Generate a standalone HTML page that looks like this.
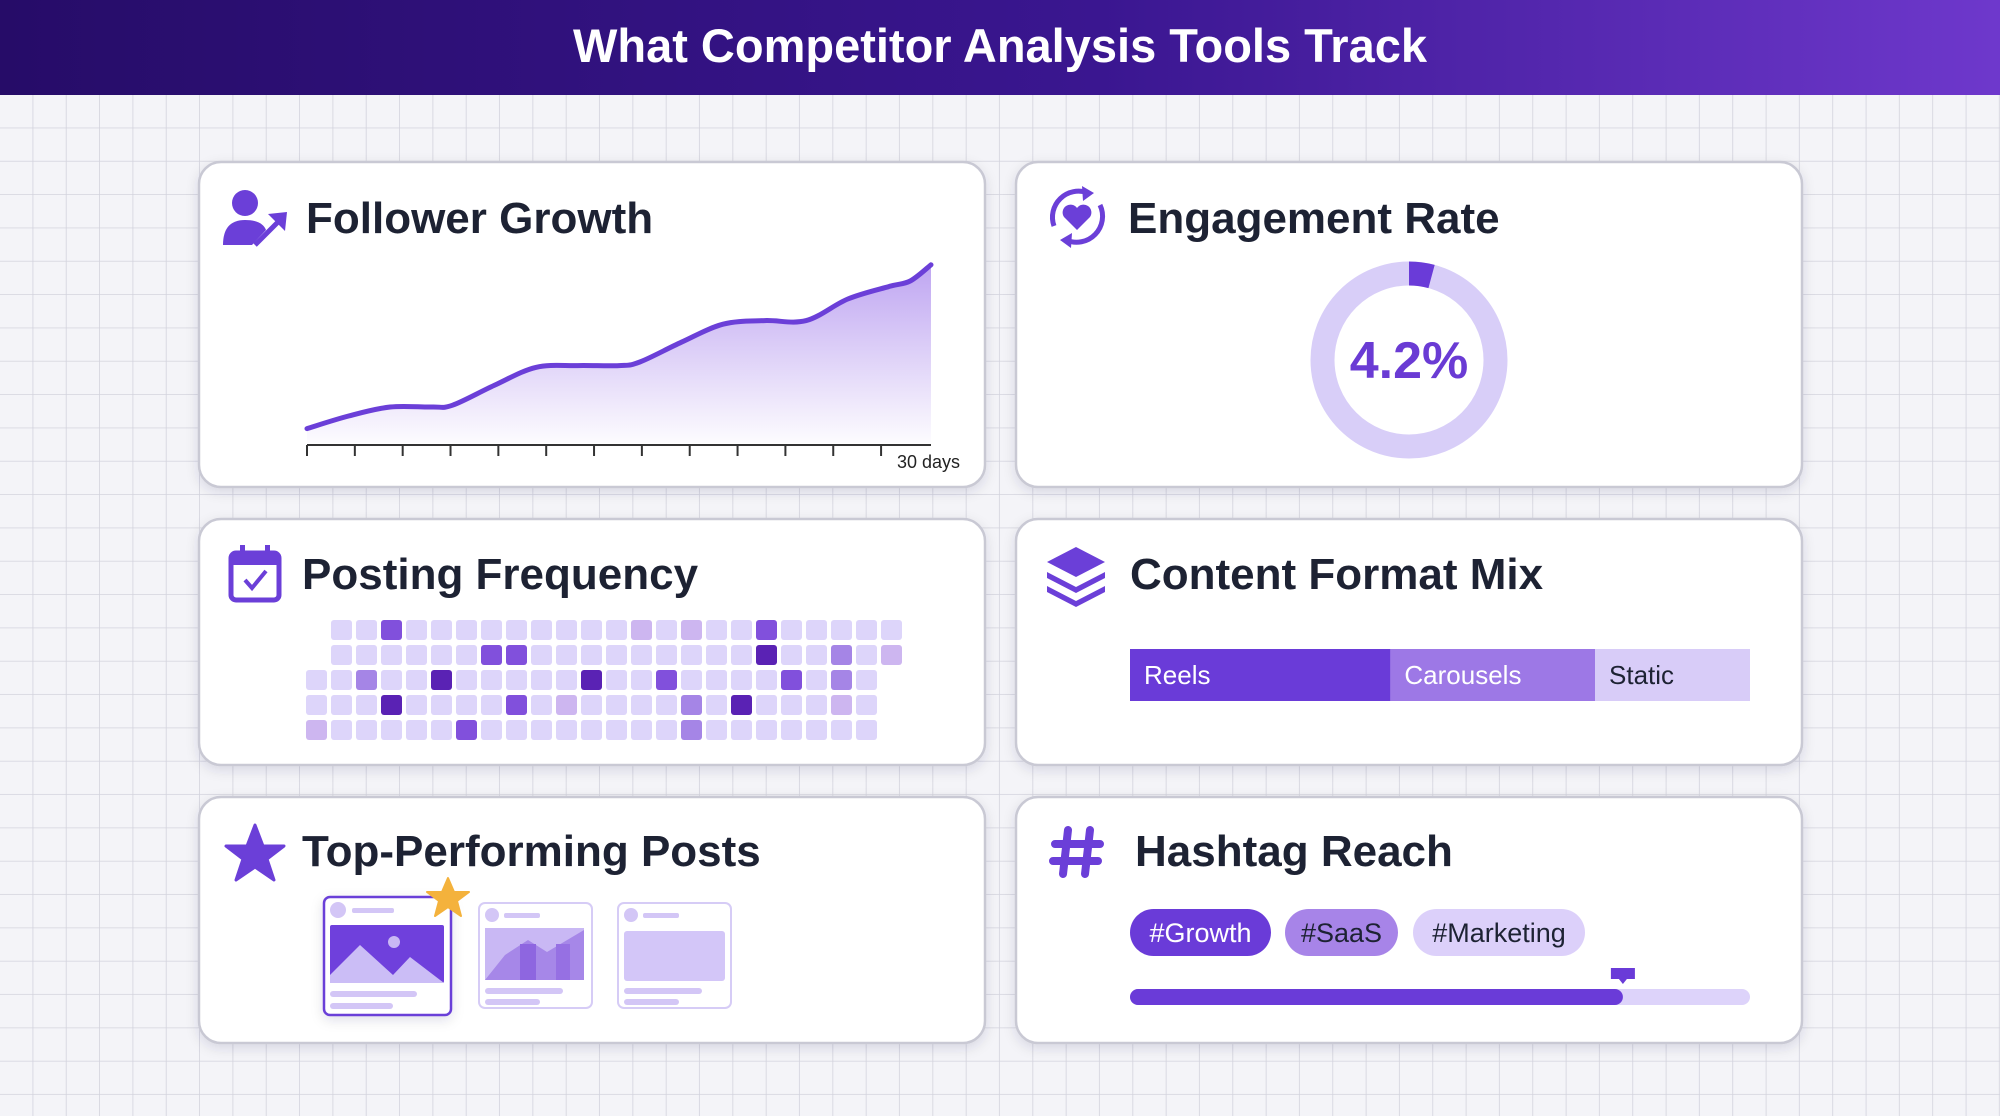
<!DOCTYPE html>
<html><head><meta charset="utf-8"><style>
html,body{margin:0;padding:0;background:#f4f4f8}
svg{display:block}
text{font-family:"Liberation Sans",Arial,sans-serif}
</style></head><body>
<svg id="root" width="2000" height="1116" viewBox="0 0 2000 1116" xmlns="http://www.w3.org/2000/svg">
<defs>
<linearGradient id="hdr" x1="0" y1="0" x2="1" y2="0"><stop offset="0" stop-color="#260c68"/><stop offset="0.55" stop-color="#3a1690"/><stop offset="1" stop-color="#6e38cc"/></linearGradient>
<linearGradient id="area" x1="0" y1="0" x2="0" y2="1"><stop offset="0" stop-color="#8a5ce6" stop-opacity="0.55"/><stop offset="1" stop-color="#8a5ce6" stop-opacity="0.02"/></linearGradient>
<pattern id="grid" width="33.33" height="33.33" patternUnits="userSpaceOnUse" x="0" y="95"><path d="M33.33 0V33.33M0 33.33H33.33" stroke="#d3d3dd" stroke-width="1.6" fill="none"/></pattern>
<filter id="sh" x="-10%" y="-10%" width="120%" height="130%"><feDropShadow dx="0" dy="4" stdDeviation="6" flood-color="#202040" flood-opacity="0.12"/></filter>
</defs>
<rect width="2000" height="1116" fill="#f4f4f8"/>
<rect width="2000" height="1116" fill="url(#grid)"/>
<rect width="2000" height="95" fill="url(#hdr)"/>
<text x="1000" y="62" text-anchor="middle" fill="#fff" font-size="47" font-weight="bold">What Competitor Analysis Tools Track</text>

<g>
<rect x="199" y="162" width="786" height="325" rx="22" fill="#fff" stroke="#c9c9d4" stroke-width="2.5" filter="url(#sh)"/>
<g fill="#6b3fd8">
<circle cx="245" cy="203" r="13"/><path d="M223 245 Q223 220 245 220 Q262 220 266 230 L252 245 Z"/>
<path d="M255 245 L280 220" stroke="#6b3fd8" stroke-width="5" fill="none"/><path d="M268 214 L287 212 L285 231 Z"/>
</g>
<text x="306" y="233" font-size="44" font-weight="bold" fill="#1d2233">Follower Growth</text>
<g id="fg"></g>
<text x="960" y="468" text-anchor="end" font-size="18" fill="#222">30 days</text>
</g>

<g>
<rect x="1016" y="162" width="786" height="325" rx="22" fill="#fff" stroke="#c9c9d4" stroke-width="2.5" filter="url(#sh)"/>
<g>
<path d="M1054 226 A26 26 0 0 1 1088 193" stroke="#6b3fd8" stroke-width="5" fill="none"/>
<path d="M1100 205 A26 26 0 0 1 1066 240" stroke="#6b3fd8" stroke-width="5" fill="none"/>
<path d="M1082 186 L1094 193 L1083 201Z M1072 233 L1060 240 L1071 248Z" fill="#6b3fd8"/>
<path d="M1077 230 L1064 217 A7 7 0 0 1 1077 208 A7 7 0 0 1 1090 217 Z" fill="#6b3fd8"/>
</g>
<text x="1128" y="233" font-size="44" font-weight="bold" fill="#1d2233">Engagement Rate</text>
<g id="donut"></g>
<text x="1409" y="378" text-anchor="middle" font-size="52" font-weight="bold" fill="#6a3bd4">4.2%</text>
</g>

<g>
<rect x="199" y="519" width="786" height="246" rx="22" fill="#fff" stroke="#c9c9d4" stroke-width="2.5" filter="url(#sh)"/>
<g>
<rect x="231" y="553" width="48" height="47" rx="5" fill="#fff" stroke="#6b3fd8" stroke-width="5"/>
<rect x="231" y="553" width="48" height="12" fill="#6b3fd8"/>
<rect x="240" y="545" width="5" height="12" fill="#6b3fd8"/><rect x="265" y="545" width="5" height="12" fill="#6b3fd8"/>
<path d="M245 580 L252 588 L266 571" stroke="#6b3fd8" stroke-width="4" fill="none"/>
</g>
<text x="302" y="589" font-size="44" font-weight="bold" fill="#1d2233">Posting Frequency</text>
<g id="heat"></g>
</g>

<g>
<rect x="1016" y="519" width="786" height="246" rx="22" fill="#fff" stroke="#c9c9d4" stroke-width="2.5" filter="url(#sh)"/>
<g fill="#6b3fd8">
<path d="M1076 547 L1105 562 L1076 577 L1047 562Z"/>
<path d="M1047 572 L1076 587 L1105 572 L1105 578 L1076 593 L1047 578Z"/>
<path d="M1047 586 L1076 601 L1105 586 L1105 592 L1076 607 L1047 592Z"/>
</g>
<text x="1130" y="589" font-size="44" font-weight="bold" fill="#1d2233">Content Format Mix</text>
<g id="mix"></g>
</g>

<g>
<rect x="199" y="797" width="786" height="246" rx="22" fill="#fff" stroke="#c9c9d4" stroke-width="2.5" filter="url(#sh)"/>
<path d="M255 825 L263 846 L284 846 L267 859 L274 880 L255 867 L236 880 L243 859 L226 846 L247 846Z" fill="#6b3fd8" stroke="#6b3fd8" stroke-width="3" stroke-linejoin="round"/>
<text x="302" y="866" font-size="44" font-weight="bold" fill="#1d2233">Top-Performing Posts</text>
<g>
<rect x="324" y="897" width="127" height="118" rx="6" fill="#fff" stroke="#6b3fd8" stroke-width="2.5" filter="url(#sh)"/>
<circle cx="338" cy="910" r="8" fill="#d3c6f6"/><rect x="352" y="908" width="42" height="5" rx="2" fill="#d3c6f6"/>
<rect x="330" y="925" width="114" height="58" rx="2" fill="#6f40dc"/>
<circle cx="394" cy="942" r="6" fill="#c9b8f4"/>
<path d="M330 983 L330 975 L360 945 L393 975 L410 957 L444 983Z" fill="#cbbdf6"/>
<rect x="330" y="991" width="87" height="6" rx="3" fill="#d3c6f6"/><rect x="330" y="1003" width="63" height="6" rx="3" fill="#d3c6f6"/>
<path d="M448 878 L454 892 L469 892 L457 901 L461 916 L448 907 L435 916 L439 901 L427 892 L442 892Z" fill="#f4b23c" stroke="#f4b23c" stroke-width="2" stroke-linejoin="round"/>
</g>
<g>
<rect x="479" y="903" width="113" height="105" rx="6" fill="#fff" stroke="#d6ccf6" stroke-width="2"/>
<circle cx="492" cy="915" r="7" fill="#d3c6f6"/><rect x="504" y="913" width="36" height="5" rx="2" fill="#d3c6f6"/>
<rect x="485" y="928" width="99" height="52" fill="#c9b8f4"/>
<path d="M485 980 L505 955 L528 940 L547 952 L584 930 L584 980Z" fill="#a687e8"/>
<rect x="520" y="944" width="16" height="36" fill="#8e66e0"/><rect x="556" y="944" width="14" height="36" fill="#9670e3"/>
<rect x="485" y="988" width="78" height="6" rx="3" fill="#d3c6f6"/><rect x="485" y="999" width="55" height="6" rx="3" fill="#d3c6f6"/>
</g>
<g>
<rect x="618" y="903" width="113" height="105" rx="6" fill="#fff" stroke="#d6ccf6" stroke-width="2"/>
<circle cx="631" cy="915" r="7" fill="#d3c6f6"/><rect x="643" y="913" width="36" height="5" rx="2" fill="#d3c6f6"/>
<rect x="624" y="931" width="101" height="50" rx="3" fill="#d3c6f8"/>
<rect x="624" y="988" width="78" height="6" rx="3" fill="#d3c6f6"/><rect x="624" y="999" width="55" height="6" rx="3" fill="#d3c6f6"/>
</g>
</g>

<g>
<rect x="1016" y="797" width="786" height="246" rx="22" fill="#fff" stroke="#c9c9d4" stroke-width="2.5" filter="url(#sh)"/>
<g stroke="#6b3fd8" stroke-width="8" stroke-linecap="round">
<path d="M1068 830 L1063 874 M1090 830 L1085 874 M1055 844 H1100 M1053 861 H1098"/>
</g>
<text x="1135" y="866" font-size="44" font-weight="bold" fill="#1d2233">Hashtag Reach</text>
<g><rect x="1130" y="909" width="141" height="47" rx="23.5" fill="#6a3bd8"/><text x="1200.5" y="942" text-anchor="middle" font-size="27" fill="#fff">#Growth</text></g>
<g><rect x="1285" y="909" width="113" height="47" rx="23.5" fill="#a784e8"/><text x="1341.5" y="942" text-anchor="middle" font-size="27" fill="#1d2233">#SaaS</text></g>
<g><rect x="1413" y="909" width="172" height="47" rx="23.5" fill="#dcd0fa"/><text x="1499" y="942" text-anchor="middle" font-size="27" fill="#1d2233">#Marketing</text></g>
<g id="reach"></g>
</g>
</svg>
<script>
const NS="http://www.w3.org/2000/svg";
function mk(tag,attrs,parent){const e=document.createElementNS(NS,tag);for(const k in attrs)e.setAttribute(k,attrs[k]);parent.appendChild(e);return e;}

// Follower growth data
const growthDays=[0,2,4,6,7,9,11,13,15,16,18,20,22,24,26,28,29,30];
const growthValues=[8,15,20,20,21,32,42,43,43,45,56,66,68,68,80,87,90,99];
const axisTicks=[0,2.3,4.6,6.9,9.2,11.5,13.8,16.1,18.4,20.7,23,25.3,27.6];
// Engagement
const engagementRate=[4.2];
// Posting frequency heatmap (levels 0-4)
const heatRows=[
[0,0,3,0,0,0,0,0,0,0,0,0,1,0,1,0,0,3,0,0,0,0,0],
[0,0,0,0,0,0,3,3,0,0,0,0,0,0,0,0,0,4,0,0,2,0,1],
[0,0,2,0,0,4,0,0,0,0,0,4,0,0,3,0,0,0,0,3,0,2,0],
[0,0,0,4,0,0,0,0,3,0,1,0,0,0,0,2,0,4,0,0,0,1,0],
[1,0,0,0,0,0,3,0,0,0,0,0,0,0,0,2,0,0,0,0,0,0,0]];
const heatRowOffset=[1,1,0,0,0];
// Content mix
const mixLabels=["Reels","Carousels","Static"];
const mixShares=[42,33,25];
// Hashtag reach
const reachPercent=[79.5];

// ---- follower chart
const fg=document.getElementById('fg');
const gx=d=>307+d*(931-307)/30, gy=v=>443-v*1.8;
const pts=growthDays.map((d,i)=>[gx(d),gy(growthValues[i])]);
function smooth(p){let s=`M${p[0][0]} ${p[0][1]}`;for(let i=0;i<p.length-1;i++){const p0=p[i-1]||p[i],p1=p[i],p2=p[i+1],p3=p[i+2]||p2;const c1=[p1[0]+(p2[0]-p0[0])/6,p1[1]+(p2[1]-p0[1])/6],c2=[p2[0]-(p3[0]-p1[0])/6,p2[1]-(p3[1]-p1[1])/6];s+=` C${c1[0]} ${c1[1]} ${c2[0]} ${c2[1]} ${p2[0]} ${p2[1]}`;}return s;}
const line=smooth(pts);
const area=mk('path',{d:line+` L${gx(30)} ${gy(0)} L${gx(0)} ${gy(0)} Z`,fill:'url(#area)'},fg);


const ln=mk('path',{d:line,fill:'none',stroke:'#6b3fd8','stroke-width':5,'stroke-linecap':'round'},fg);


const ax=mk('line',{x1:gx(0),x2:gx(30),y1:445,y2:445,stroke:'#333','stroke-width':2},fg);


axisTicks.forEach(t=>{const tk=mk('line',{x1:gx(t),x2:gx(t),y1:445,y2:456,stroke:'#333','stroke-width':2},fg);

});

// ---- donut
const dn=document.getElementById('donut');const cx=1409,cy=360,r=86.5;
const ring=mk('circle',{cx,cy,r,fill:'none',stroke:'#d8cef8','stroke-width':24},dn);


const ang=engagementRate[0]/100*2*Math.PI;
const ex=cx+r*Math.sin(ang),ey=cy-r*Math.cos(ang);
const arc=mk('path',{d:`M${cx} ${cy-r} A${r} ${r} 0 0 1 ${ex} ${ey}`,fill:'none',stroke:'#6a3bd8','stroke-width':24},dn);



// ---- heatmap
const hm=document.getElementById('heat');
const heatColors=['#ddd5fa','#cdb6f0','#a585e6','#8150dc','#5a22b4'];
heatRows.forEach((row,ri)=>row.forEach((lv,ci)=>{
const c=mk('rect',{x:306+(ci+heatRowOffset[ri])*25,y:620+ri*25,width:21,height:20,rx:3,fill:heatColors[lv]},hm);


}));

// ---- content mix
const mx=document.getElementById('mix');const bx0=1130,bw=620;
const mixColors=['#6a3bd8','#9d78e6','#d8ccf8'],mixText=['#fff','#fff','#1d2233'];
const tot=mixShares.reduce((a,b)=>a+b,0);let acc=0;
mixShares.forEach((s,i)=>{const x=bx0+acc/tot*bw,w=s/tot*bw;acc+=s;
const seg=mk('rect',{x,y:649,width:w,height:52,fill:mixColors[i]},mx);


const t=mk('text',{x:x+14,y:684,'font-size':26,fill:mixText[i]},mx);t.textContent=mixLabels[i];


});

// ---- reach bar
const rc=document.getElementById('reach');
const tr=mk('rect',{x:1130,y:989,width:620,height:16,rx:8,fill:'#ddd3fa'},rc);


const fw=reachPercent[0]/100*620;
const fl=mk('rect',{x:1130,y:989,width:fw,height:16,rx:8,fill:'#6a3bd8'},rc);


const mkr=mk('path',{d:`M${1130+fw-12} 968 h24 v11 h-8 l-4 5 l-4 -5 h-8 Z`,fill:'#6a3bd8'},rc);


</script>
</body></html>
